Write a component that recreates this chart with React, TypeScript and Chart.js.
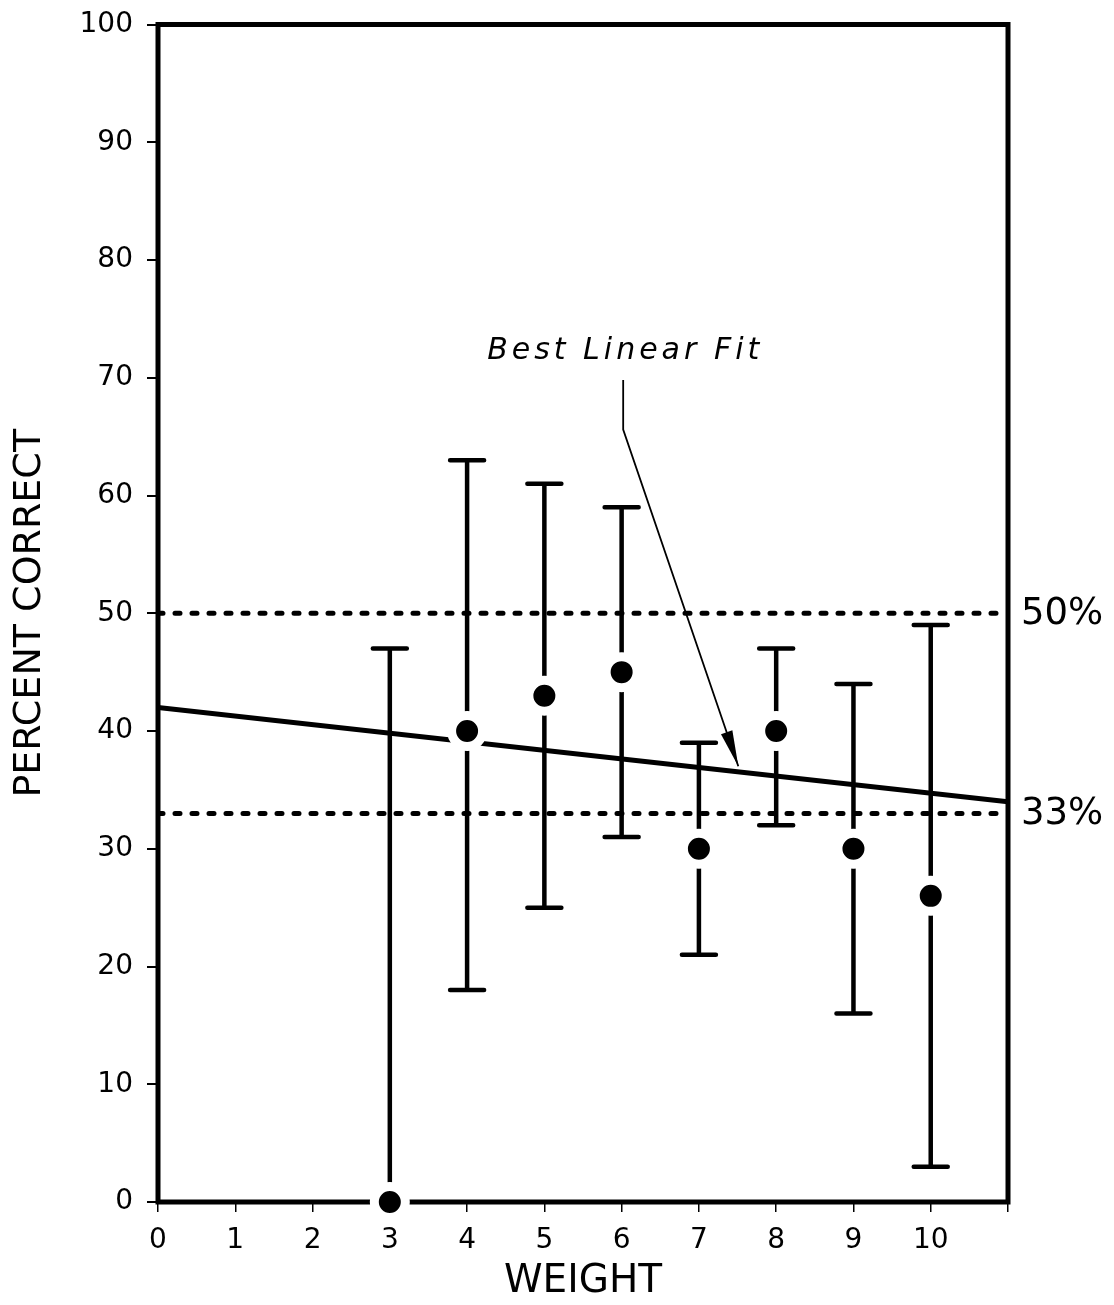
import React, { useEffect, useRef } from 'react';
import { Chart, registerables } from 'chart.js';

Chart.register(...registerables);

// ---- data ----
const weights = [3, 4, 5, 6, 7, 8, 9, 10];
const percentCorrect = [0, 40, 43, 45, 30, 40, 30, 26];
const errorLow = [0, 18, 25, 31, 21, 32, 16, 3];
const errorHigh = [47, 63, 61, 59, 39, 47, 44, 49];
const fitX = [0, 11];
const fitY = [42, 34];
const chanceLevels = [50, 33];
const chanceLabels = ['50%', '33%'];
const xTickLabels = ['0', '1', '2', '3', '4', '5', '6', '7', '8', '9', '10'];
const annotationText = 'Best Linear Fit';
// annotation positions in data units: [x, y]
const annotationTextAt = [6.02, 71.6];
const leaderTop = [6.02, 69.8];
const leaderBend = [6.02, 65.6];
const arrowTip = [7.51, 37.0];

const FONT = '"DejaVu Sans", "Liberation Sans", sans-serif';

const framePlugin = {
  id: 'frameAndBars',
  beforeDatasetsDraw(chart: any) {
    const { ctx, chartArea, scales } = chart;
    const xs = scales.x;
    const ys = scales.y;
    ctx.save();
    // frame
    ctx.strokeStyle = '#000';
    ctx.lineWidth = 5;
    ctx.lineJoin = 'miter';
    ctx.strokeRect(chartArea.left, chartArea.top, chartArea.right - chartArea.left, chartArea.bottom - chartArea.top);
    // error bars
    ctx.lineWidth = 4.5;
    ctx.lineCap = 'round';
    const capHalf = 17;
    weights.forEach((w, i) => {
      const px = xs.getPixelForValue(w);
      const lo = ys.getPixelForValue(errorLow[i]);
      const hi = ys.getPixelForValue(errorHigh[i]);
      ctx.beginPath();
      ctx.moveTo(px, lo);
      ctx.lineTo(px, hi);
      ctx.moveTo(px - capHalf, hi);
      ctx.lineTo(px + capHalf, hi);
      ctx.moveTo(px - capHalf, lo);
      ctx.lineTo(px + capHalf, lo);
      ctx.stroke();
    });
    ctx.restore();
  },
  afterDatasetsDraw(chart: any) {
    const { ctx, chartArea, scales } = chart;
    const xs = scales.x;
    const ys = scales.y;
    ctx.save();
    ctx.fillStyle = '#000';
    ctx.strokeStyle = '#000';
    // chance labels
    ctx.font = `37px ${FONT}`;
    ctx.textAlign = 'left';
    ctx.textBaseline = 'middle';
    chanceLevels.forEach((lv, i) => {
      ctx.fillText(chanceLabels[i], chartArea.right + 13, ys.getPixelForValue(lv) + 1);
    });
    // annotation text
    ctx.font = `italic 30px ${FONT}`;
    (ctx as any).letterSpacing = '4px';
    ctx.textAlign = 'center';
    ctx.textBaseline = 'alphabetic';
    ctx.fillText(annotationText, xs.getPixelForValue(annotationTextAt[0]) + 2, ys.getPixelForValue(annotationTextAt[1]));
    (ctx as any).letterSpacing = '0px';
    // leader + arrow
    const tx = xs.getPixelForValue(leaderTop[0]);
    const ty = ys.getPixelForValue(leaderTop[1]);
    const bx = xs.getPixelForValue(leaderBend[0]);
    const by = ys.getPixelForValue(leaderBend[1]);
    const ax = xs.getPixelForValue(arrowTip[0]);
    const ay = ys.getPixelForValue(arrowTip[1]);
    ctx.lineWidth = 1.8;
    ctx.beginPath();
    ctx.moveTo(tx, ty);
    ctx.lineTo(bx, by);
    ctx.lineTo(ax, ay);
    ctx.stroke();
    const dx = ax - bx;
    const dy = ay - by;
    const len = Math.hypot(dx, dy);
    const ux = dx / len;
    const uy = dy / len;
    const headLen = 36;
    const headHalf = 6;
    const baseX = ax - ux * headLen;
    const baseY = ay - uy * headLen;
    ctx.beginPath();
    ctx.moveTo(ax, ay);
    ctx.lineTo(baseX - uy * headHalf, baseY + ux * headHalf);
    ctx.lineTo(baseX + uy * headHalf, baseY - ux * headHalf);
    ctx.closePath();
    ctx.fill();
    ctx.restore();
  },
};

export default function App() {
  const ref = useRef<HTMLCanvasElement | null>(null);
  useEffect(() => {
    document.body.style.margin = '0';
    const canvas = ref.current;
    if (!canvas) return;
    const points = weights.map((w, i) => ({ x: w, y: percentCorrect[i] }));
    const fit = fitX.map((x, i) => ({ x, y: fitY[i] }));
    const chanceSets = chanceLevels.map((lv) => ({
      type: 'line' as const,
      data: [{ x: fitX[0], y: lv }, { x: fitX[1], y: lv }],
      borderColor: '#000',
      borderWidth: 5,
      borderDash: [5, 12],
      borderCapStyle: 'round' as const,
      pointRadius: 0,
      showLine: true,
      fill: false,
    }));
    const chart = new Chart(canvas, {
      type: 'scatter',
      data: {
        datasets: [
          {
            data: points,
            backgroundColor: '#000',
            borderColor: '#fff',
            borderWidth: 9,
            pointRadius: 15.5,
            pointHoverRadius: 15.5,
            pointHoverBorderWidth: 9,
            clip: false,
          } as any,
          {
            type: 'line',
            data: fit,
            borderColor: '#000',
            borderWidth: 5,
            pointRadius: 0,
            showLine: true,
            fill: false,
          } as any,
          ...(chanceSets as any[]),
        ],
      },
      options: {
        animation: false,
        responsive: false,
        maintainAspectRatio: false,
        events: [],
        layout: { padding: { top: 22, right: 106, left: 0, bottom: 0 } },
        plugins: { legend: { display: false }, tooltip: { enabled: false } },
        scales: {
          x: {
            type: 'linear',
            min: 0,
            max: 11,
            afterFit: (s: any) => {
              s.height = 103;
              s.paddingLeft = 0;
              s.paddingRight = 0;
            },
            afterBuildTicks: (s: any) => {
              s.ticks = xTickLabels.map((_, i) => ({ value: i })).concat([{ value: 11 }]);
            },
            ticks: {
              autoSkip: false,
              maxRotation: 0,
              padding: 12,
              color: '#000',
              font: { family: FONT, size: 28 },
              callback: (v: any) => (v <= 10 ? xTickLabels[v] : ''),
            },
            grid: { display: true, drawOnChartArea: false, drawTicks: true, tickLength: 10, color: '#000', lineWidth: 1.5 },
            border: { display: false },
            title: {
              display: true,
              text: 'WEIGHT',
              color: '#000',
              font: { family: FONT, size: 39 },
              padding: { top: 0, bottom: 0 },
            },
          },
          y: {
            type: 'linear',
            min: 0,
            max: 100,
            afterFit: (s: any) => {
              s.width = 158;
              s.paddingTop = 0;
              s.paddingBottom = 0;
            },
            ticks: {
              stepSize: 10,
              padding: 14,
              color: '#000',
              font: { family: FONT, size: 28 },
            },
            grid: { display: true, drawOnChartArea: false, drawTicks: true, tickLength: 11, color: '#000', lineWidth: 2 },
            border: { display: false },
            title: {
              display: true,
              text: 'PERCENT CORRECT',
              color: '#000',
              font: { family: FONT, size: 38 },
              padding: { top: 7, bottom: 0 },
            },
          },
        },
      },
      plugins: [framePlugin],
    } as any);
    return () => chart.destroy();
  }, []);
  return <canvas ref={ref} width={1114} height={1305} style={{ display: 'block', width: 1114, height: 1305 }} />;
}
